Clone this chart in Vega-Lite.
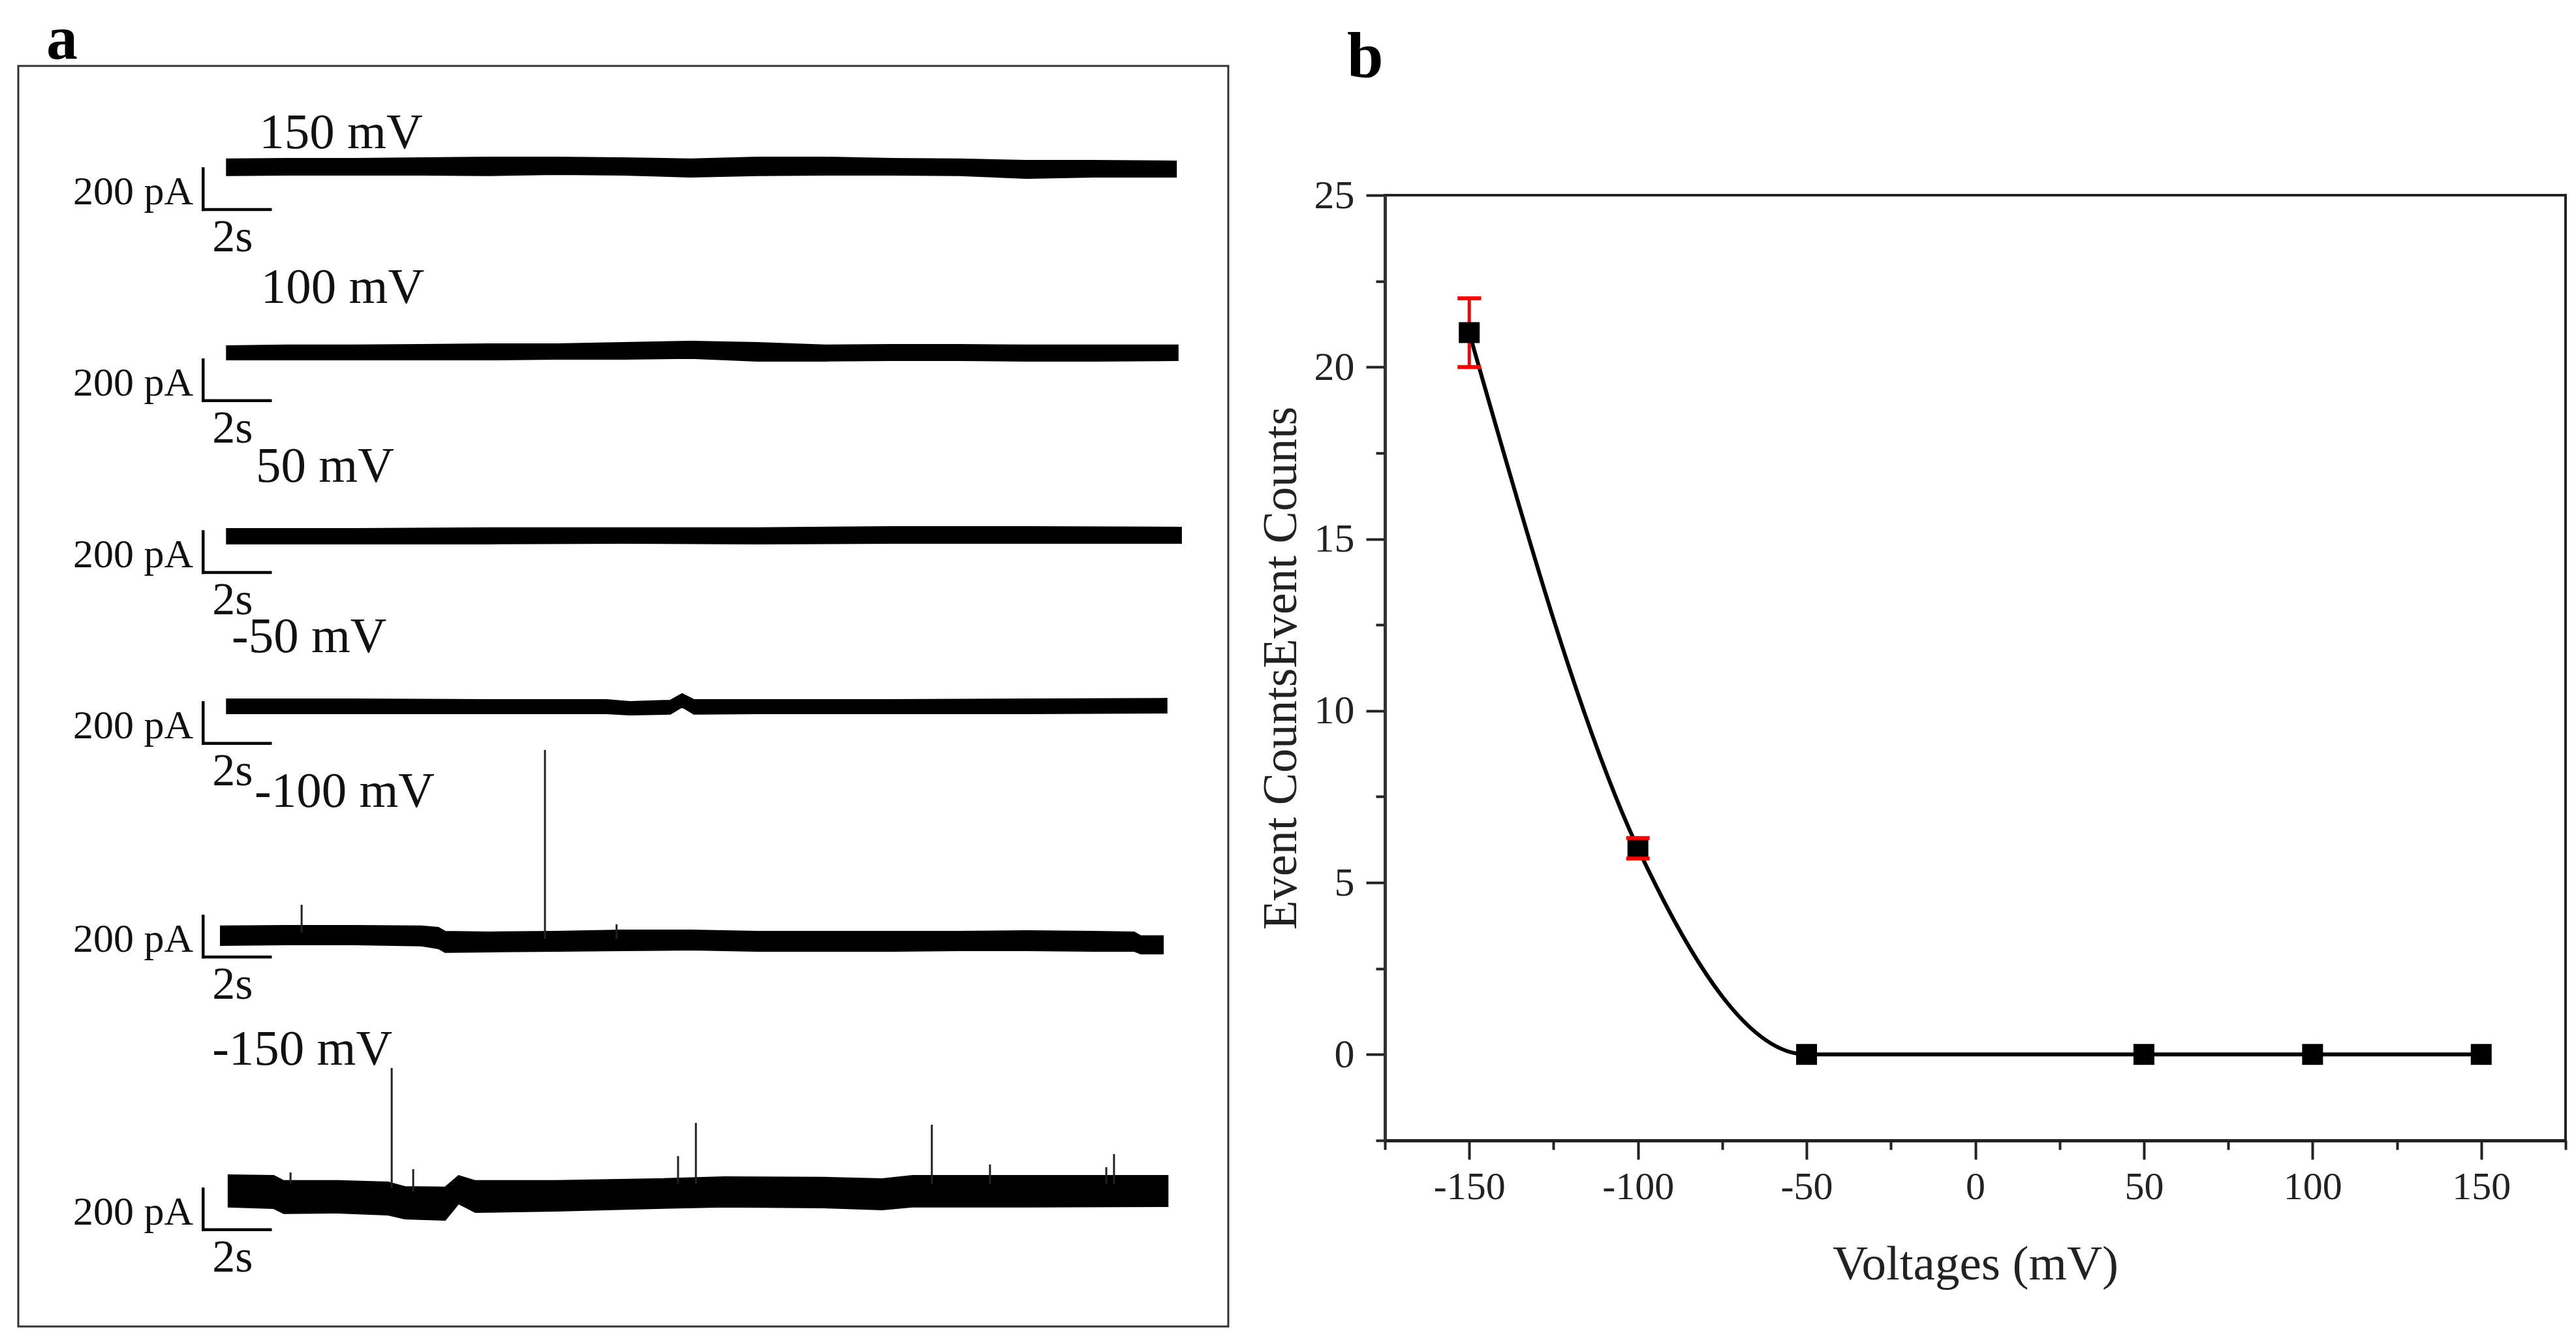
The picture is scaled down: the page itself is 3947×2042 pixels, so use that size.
{
  "$schema": "https://vega.github.io/schema/vega-lite/v6.json",
  "background": "white",
  "padding": {"left": 26, "top": 11, "right": 0, "bottom": 0},
  "bounds": "flush",
  "spacing": 240,
  "config": {"view": {"stroke": null}, "font": "Liberation Serif"},
  "datasets": {
    "traces": [
      {"trace": "150 mV", "t": 6.2, "hi": 5722, "lo": 5642},
      {"trace": "150 mV", "t": 8, "hi": 5725, "lo": 5645},
      {"trace": "150 mV", "t": 10, "hi": 5725, "lo": 5645},
      {"trace": "150 mV", "t": 12, "hi": 5728, "lo": 5645},
      {"trace": "150 mV", "t": 14, "hi": 5731, "lo": 5642},
      {"trace": "150 mV", "t": 16, "hi": 5731, "lo": 5648},
      {"trace": "150 mV", "t": 18, "hi": 5728, "lo": 5645},
      {"trace": "150 mV", "t": 20, "hi": 5722, "lo": 5635},
      {"trace": "150 mV", "t": 22, "hi": 5731, "lo": 5642},
      {"trace": "150 mV", "t": 24, "hi": 5731, "lo": 5645},
      {"trace": "150 mV", "t": 26, "hi": 5725, "lo": 5645},
      {"trace": "150 mV", "t": 28, "hi": 5722, "lo": 5642},
      {"trace": "150 mV", "t": 30, "hi": 5715, "lo": 5629},
      {"trace": "150 mV", "t": 32, "hi": 5715, "lo": 5635},
      {"trace": "150 mV", "t": 34.45, "hi": 5712, "lo": 5635},
      {"trace": "100 mV", "t": 6.2, "hi": 4806, "lo": 4739},
      {"trace": "100 mV", "t": 8, "hi": 4810, "lo": 4739},
      {"trace": "100 mV", "t": 10, "hi": 4810, "lo": 4739},
      {"trace": "100 mV", "t": 12, "hi": 4813, "lo": 4739},
      {"trace": "100 mV", "t": 14, "hi": 4816, "lo": 4739},
      {"trace": "100 mV", "t": 16, "hi": 4816, "lo": 4742},
      {"trace": "100 mV", "t": 18, "hi": 4822, "lo": 4742},
      {"trace": "100 mV", "t": 20, "hi": 4829, "lo": 4746},
      {"trace": "100 mV", "t": 22, "hi": 4822, "lo": 4733},
      {"trace": "100 mV", "t": 24, "hi": 4810, "lo": 4733},
      {"trace": "100 mV", "t": 26, "hi": 4813, "lo": 4736},
      {"trace": "100 mV", "t": 28, "hi": 4813, "lo": 4736},
      {"trace": "100 mV", "t": 30, "hi": 4810, "lo": 4733},
      {"trace": "100 mV", "t": 32, "hi": 4810, "lo": 4733},
      {"trace": "100 mV", "t": 34.5, "hi": 4810, "lo": 4736},
      {"trace": "50 mV", "t": 6.2, "hi": 3910, "lo": 3837},
      {"trace": "50 mV", "t": 10, "hi": 3910, "lo": 3837},
      {"trace": "50 mV", "t": 14, "hi": 3914, "lo": 3837},
      {"trace": "50 mV", "t": 18, "hi": 3914, "lo": 3840},
      {"trace": "50 mV", "t": 22, "hi": 3914, "lo": 3837},
      {"trace": "50 mV", "t": 26, "hi": 3920, "lo": 3840},
      {"trace": "50 mV", "t": 30, "hi": 3920, "lo": 3840},
      {"trace": "50 mV", "t": 34.6, "hi": 3917, "lo": 3840},
      {"trace": "-50 mV", "t": 6.2, "hi": 3075, "lo": 3005},
      {"trace": "-50 mV", "t": 10, "hi": 3075, "lo": 3005},
      {"trace": "-50 mV", "t": 14, "hi": 3072, "lo": 3005},
      {"trace": "-50 mV", "t": 17.5, "hi": 3072, "lo": 3005},
      {"trace": "-50 mV", "t": 18.2, "hi": 3062, "lo": 2998},
      {"trace": "-50 mV", "t": 19.4, "hi": 3069, "lo": 3002},
      {"trace": "-50 mV", "t": 19.75, "hi": 3101, "lo": 3037},
      {"trace": "-50 mV", "t": 20.1, "hi": 3072, "lo": 3002},
      {"trace": "-50 mV", "t": 22, "hi": 3072, "lo": 3005},
      {"trace": "-50 mV", "t": 26, "hi": 3072, "lo": 3005},
      {"trace": "-50 mV", "t": 30, "hi": 3075, "lo": 3005},
      {"trace": "-50 mV", "t": 34.17, "hi": 3078, "lo": 3008},
      {"trace": "-100 mV", "t": 6.02, "hi": 1962, "lo": 1869},
      {"trace": "-100 mV", "t": 8, "hi": 1965, "lo": 1872},
      {"trace": "-100 mV", "t": 10, "hi": 1965, "lo": 1872},
      {"trace": "-100 mV", "t": 12, "hi": 1962, "lo": 1866},
      {"trace": "-100 mV", "t": 12.5, "hi": 1955, "lo": 1853},
      {"trace": "-100 mV", "t": 12.7, "hi": 1936, "lo": 1834},
      {"trace": "-100 mV", "t": 14, "hi": 1933, "lo": 1837},
      {"trace": "-100 mV", "t": 16, "hi": 1936, "lo": 1840},
      {"trace": "-100 mV", "t": 18, "hi": 1942, "lo": 1843},
      {"trace": "-100 mV", "t": 20, "hi": 1942, "lo": 1846},
      {"trace": "-100 mV", "t": 22, "hi": 1936, "lo": 1840},
      {"trace": "-100 mV", "t": 24, "hi": 1936, "lo": 1840},
      {"trace": "-100 mV", "t": 26, "hi": 1936, "lo": 1840},
      {"trace": "-100 mV", "t": 28, "hi": 1936, "lo": 1843},
      {"trace": "-100 mV", "t": 30, "hi": 1939, "lo": 1843},
      {"trace": "-100 mV", "t": 32, "hi": 1936, "lo": 1840},
      {"trace": "-100 mV", "t": 33.2, "hi": 1933, "lo": 1840},
      {"trace": "-100 mV", "t": 33.4, "hi": 1914, "lo": 1827},
      {"trace": "-100 mV", "t": 34.06, "hi": 1914, "lo": 1827},
      {"trace": "-150 mV", "t": 6.25, "hi": 742, "lo": 586},
      {"trace": "-150 mV", "t": 7.6, "hi": 739, "lo": 579},
      {"trace": "-150 mV", "t": 7.9, "hi": 714, "lo": 554},
      {"trace": "-150 mV", "t": 9.5, "hi": 714, "lo": 557},
      {"trace": "-150 mV", "t": 11.0, "hi": 707, "lo": 547},
      {"trace": "-150 mV", "t": 11.5, "hi": 685, "lo": 528},
      {"trace": "-150 mV", "t": 12.7, "hi": 682, "lo": 522},
      {"trace": "-150 mV", "t": 13.1, "hi": 739, "lo": 602},
      {"trace": "-150 mV", "t": 13.6, "hi": 714, "lo": 560},
      {"trace": "-150 mV", "t": 16.0, "hi": 714, "lo": 566},
      {"trace": "-150 mV", "t": 19.0, "hi": 723, "lo": 579},
      {"trace": "-150 mV", "t": 21.0, "hi": 733, "lo": 586},
      {"trace": "-150 mV", "t": 24.0, "hi": 730, "lo": 582},
      {"trace": "-150 mV", "t": 25.7, "hi": 723, "lo": 573},
      {"trace": "-150 mV", "t": 26.6, "hi": 739, "lo": 586},
      {"trace": "-150 mV", "t": 30.0, "hi": 739, "lo": 586},
      {"trace": "-150 mV", "t": 34.2, "hi": 739, "lo": 589}
    ],
    "spikes": [
      {"trace": "-100 mV", "t": 15.67, "base": 1900, "top": 2826},
      {"trace": "-100 mV", "t": 8.43, "base": 1930, "top": 2067},
      {"trace": "-100 mV", "t": 17.8, "base": 1900, "top": 1971},
      {"trace": "-150 mV", "t": 11.11, "base": 680, "top": 1267},
      {"trace": "-150 mV", "t": 20.16, "base": 700, "top": 998},
      {"trace": "-150 mV", "t": 19.63, "base": 700, "top": 835},
      {"trace": "-150 mV", "t": 27.18, "base": 700, "top": 989},
      {"trace": "-150 mV", "t": 28.91, "base": 700, "top": 794},
      {"trace": "-150 mV", "t": 32.6, "base": 700, "top": 845},
      {"trace": "-150 mV", "t": 32.37, "base": 700, "top": 781},
      {"trace": "-150 mV", "t": 8.1, "base": 700, "top": 755},
      {"trace": "-150 mV", "t": 11.75, "base": 660, "top": 771}
    ],
    "bars": [
      {"trace": "150 mV", "x0": 5.5, "x1": 7.5, "yb": 5475, "yt": 5675},
      {"trace": "100 mV", "x0": 5.5, "x1": 7.5, "yb": 4538, "yt": 4738},
      {"trace": "50 mV", "x0": 5.5, "x1": 7.5, "yb": 3696, "yt": 3896},
      {"trace": "-50 mV", "x0": 5.5, "x1": 7.5, "yb": 2858, "yt": 3058},
      {"trace": "-100 mV", "x0": 5.5, "x1": 7.5, "yb": 1811, "yt": 2011},
      {"trace": "-150 mV", "x0": 5.5, "x1": 7.5, "yb": 474, "yt": 674}
    ],
    "vlabels": [
      {"label": "150 mV", "t": 7.17, "pA": 5776},
      {"label": "100 mV", "t": 7.22, "pA": 5018},
      {"label": "50 mV", "t": 7.07, "pA": 4141},
      {"label": "-50 mV", "t": 6.35, "pA": 3306},
      {"label": "-100 mV", "t": 7.03, "pA": 2547},
      {"label": "-150 mV", "t": 5.77, "pA": 1283}
    ],
    "counts": [
      {"V": -150, "n": 21, "lo": 20, "hi": 22},
      {"V": -100, "n": 6, "lo": 5.7, "hi": 6.3},
      {"V": -50, "n": 0},
      {"V": 50, "n": 0},
      {"V": 100, "n": 0},
      {"V": 150, "n": 0}
    ]
  },
  "hconcat": [
    {
      "width": 1854,
      "height": 1931,
      "view": {"stroke": "#333", "strokeWidth": 3},
      "title": {"text": "a", "anchor": "start", "frame": "group", "dx": 43, "offset": -85, "baseline": "alphabetic", "fontSize": 96, "fontWeight": "bold", "color": "black"},
      "layer": [
        {
          "data": {"name": "traces"},
          "mark": {"type": "area", "color": "black", "stroke": "black", "strokeWidth": 2},
          "encoding": {
            "x": {"field": "t", "type": "quantitative", "scale": {"domain": [0, 36], "nice": false, "zero": false}, "axis": null},
            "y": {"field": "hi", "type": "quantitative", "scale": {"domain": [0, 6179], "nice": false, "zero": false}, "axis": null},
            "y2": {"field": "lo"},
            "detail": {"field": "trace"}
          }
        },
        {
          "data": {"name": "spikes"},
          "mark": {"type": "rule", "color": "#222", "strokeWidth": 3},
          "encoding": {
            "x": {"field": "t", "type": "quantitative"},
            "y": {"field": "base", "type": "quantitative"},
            "y2": {"field": "top"}
          }
        },
        {
          "data": {"name": "bars"},
          "mark": {"type": "rule", "color": "black", "strokeWidth": 4.5, "strokeCap": "square"},
          "encoding": {
            "x": {"field": "x0", "type": "quantitative"},
            "y": {"field": "yb", "type": "quantitative"},
            "y2": {"field": "yt"}
          }
        },
        {
          "data": {"name": "bars"},
          "mark": {"type": "rule", "color": "black", "strokeWidth": 4.5, "strokeCap": "square"},
          "encoding": {
            "x": {"field": "x0", "type": "quantitative"},
            "x2": {"field": "x1"},
            "y": {"field": "yb", "type": "quantitative"}
          }
        },
        {
          "data": {"name": "bars"},
          "mark": {"type": "text", "align": "right", "baseline": "alphabetic", "dx": -15, "dy": -8, "fontSize": 62, "color": "#111"},
          "encoding": {
            "x": {"field": "x0", "type": "quantitative"},
            "y": {"field": "yb", "type": "quantitative"},
            "text": {"value": "200 pA"}
          }
        },
        {
          "data": {"name": "bars"},
          "mark": {"type": "text", "align": "left", "baseline": "alphabetic", "dx": 14, "dy": 64, "fontSize": 70, "color": "#111"},
          "encoding": {
            "x": {"field": "x0", "type": "quantitative"},
            "y": {"field": "yb", "type": "quantitative"},
            "text": {"value": "2s"}
          }
        },
        {
          "data": {"name": "vlabels"},
          "mark": {"type": "text", "align": "left", "baseline": "alphabetic", "fontSize": 77, "color": "#111"},
          "encoding": {
            "x": {"field": "t", "type": "quantitative"},
            "y": {"field": "pA", "type": "quantitative"},
            "text": {"field": "label"}
          }
        }
      ]
    },
    {
      "bounds": "flush",
      "spacing": 188,
      "vconcat": [
        {
          "width": 1809,
          "height": 10,
          "data": {"values": [{}]},
          "mark": {"type": "point", "opacity": 0},
          "encoding": {}
        },
        {
          "width": 1809,
          "height": 1448,
          "view": {"stroke": "#222", "strokeWidth": 4},
          "title": {"text": "b", "anchor": "start", "frame": "group", "dx": -58, "offset": 50, "baseline": "alphabetic", "fontSize": 100, "fontWeight": "bold", "color": "black"},
          "data": {"name": "counts"},
          "encoding": {
            "x": {
              "field": "V", "type": "quantitative", "title": "Voltages (mV)",
              "scale": {"domain": [-175, 175], "nice": false, "zero": false},
              "axis": {
                "values": [-175, -150, -125, -100, -75, -50, -25, 0, 25, 50, 75, 100, 125, 150, 175],
                "labelExpr": "datum.value % 50 === 0 ? '' + datum.value : ''",
                "tickSize": {"condition": {"test": "datum.value % 50 === 0", "value": 29}, "value": 14},
                "tickWidth": 4, "tickColor": "#222",
                "domainColor": "#222", "domainWidth": 5,
                "grid": false, "labelOverlap": false, "labelFlush": false,
                "labelFontSize": 60, "labelColor": "#222", "labelPadding": 13,
                "titleFontSize": 75, "titleFontWeight": "normal", "titleColor": "#222", "titlePadding": 52
              }
            },
            "y": {
              "field": "n", "type": "quantitative", "title": "Event CountsEvent Counts",
              "scale": {"domain": [-2.5, 25], "nice": false, "zero": false},
              "axis": {
                "values": [-2.5, 0, 2.5, 5, 7.5, 10, 12.5, 15, 17.5, 20, 22.5, 25],
                "labelExpr": "datum.value % 5 === 0 ? '' + datum.value : ''",
                "tickSize": {"condition": {"test": "datum.value % 5 === 0", "value": 29}, "value": 14},
                "tickWidth": 4, "tickColor": "#222",
                "domainColor": "#333", "domainWidth": 5,
                "grid": false, "labelOverlap": false, "labelFlush": false,
                "labelFontSize": 62, "labelColor": "#222", "labelPadding": 18,
                "titleFontSize": 74, "titleFontWeight": "normal", "titleColor": "#222", "titlePadding": 12
              }
            }
          },
          "layer": [
            {
              "mark": {"type": "line", "interpolate": "monotone", "color": "black", "strokeWidth": 6}
            },
            {
              "transform": [{"filter": "isValid(datum.lo)"}],
              "mark": {"type": "rule", "color": "#ff0000", "strokeWidth": 5},
              "encoding": {
                "y": {"field": "lo", "type": "quantitative", "title": "Event CountsEvent Counts"},
                "y2": {"field": "hi"}
              }
            },
            {
              "mark": {"type": "square", "size": 1024, "color": "black", "filled": true, "opacity": 1}
            },
            {
              "transform": [{"filter": "isValid(datum.lo)"}],
              "mark": {"type": "tick", "orient": "horizontal", "color": "#ff0000", "size": 36, "thickness": 6, "opacity": 1},
              "encoding": {
                "y": {"field": "lo", "type": "quantitative", "title": "Event CountsEvent Counts"}
              }
            },
            {
              "transform": [{"filter": "isValid(datum.hi)"}],
              "mark": {"type": "tick", "orient": "horizontal", "color": "#ff0000", "size": 36, "thickness": 6, "opacity": 1},
              "encoding": {
                "y": {"field": "hi", "type": "quantitative", "title": "Event CountsEvent Counts"}
              }
            }
          ]
        }
      ]
    }
  ]
}
